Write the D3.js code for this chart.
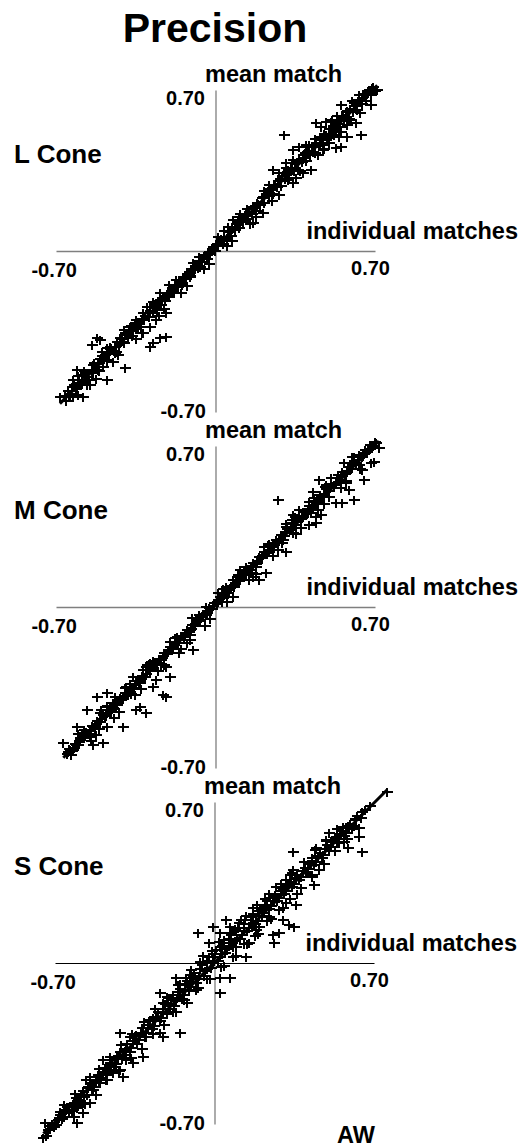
<!DOCTYPE html>
<html>
<head>
<meta charset="utf-8">
<script src="https://cdn.jsdelivr.net/npm/d3@7"></script>
<style>
  html, body { margin: 0; padding: 0; background: #fff; }
  svg { display: block; font-family: "Liberation Sans", Arial, sans-serif; font-weight: bold; }
</style>
</head>
<body>
<svg id="chart" width="523" height="1148"></svg>
<script>
// ---- labels ----
const chartTitle = "Precision";
const panelNames = ["L Cone", "M Cone", "S Cone"];
const axisDomain = [-0.70, 0.70];
const tickLabels = ["-0.70", "0.70"];
const xTitle = "individual matches";
const yTitle = "mean match";
const observer = "AW";

// ---- data: [individual match, mean match] ----
const lConeMatches = [
  [0.688,0.707],[0.710,0.700],[0.667,0.686],[0.630,0.678],[0.681,0.635],[0.645,0.664],[0.550,0.635],[0.594,0.570],
  [0.616,0.555],[0.638,0.504],[0.579,0.497],[0.543,0.497],[0.521,0.504],[0.550,0.454],[0.528,0.446],[0.499,0.468],
  [0.440,0.555],[0.462,0.541],[0.484,0.562],[0.513,0.570],[0.565,0.577],[0.302,0.504],[0.339,0.439],[0.368,0.454],
  [0.397,0.461],[0.426,0.432],[0.448,0.417],[0.470,0.439],[0.419,0.352],[0.383,0.338],[0.339,0.396],[0.310,0.381],
  [0.280,0.338],[0.251,0.352],[0.317,0.309],[0.339,0.294],[0.178,0.149],[0.207,0.164],[0.163,0.120],[0.076,0.135],
  [0.054,0.106],[0.105,0.149],
  [-0.070,-0.068],[-0.114,-0.112],[-0.158,-0.141],[-0.187,-0.184],[-0.216,-0.199],[-0.245,-0.184],[-0.260,-0.228],
  [-0.289,-0.242],[-0.318,-0.271],[-0.216,-0.271],[-0.260,-0.300],[-0.289,-0.329],[-0.318,-0.358],[-0.274,-0.402],
  [-0.289,-0.416],[-0.216,-0.372],[-0.245,-0.380],[-0.347,-0.300],[-0.376,-0.329],[-0.398,-0.358],[-0.420,-0.402],
  [-0.442,-0.445],[-0.464,-0.416],[-0.522,-0.380],[-0.544,-0.409],[-0.507,-0.387],[-0.478,-0.474],[-0.493,-0.503],
  [-0.515,-0.517],[-0.537,-0.532],[-0.566,-0.532],[-0.610,-0.517],[-0.624,-0.561],[-0.595,-0.575],[-0.566,-0.583],
  [-0.478,-0.561],[-0.398,-0.510],[-0.639,-0.633],[-0.683,-0.633],[-0.661,-0.633],[-0.624,-0.633],[-0.581,-0.633],
  [-0.602,-0.626],
  [-0.662,-0.631],[-0.648,-0.608],[-0.639,-0.622],[-0.621,-0.583],[-0.613,-0.601],[-0.597,-0.561],[-0.584,-0.570],
  [-0.571,-0.529],[-0.562,-0.548],[-0.544,-0.517],[-0.533,-0.489],[-0.519,-0.503],[-0.508,-0.468],[-0.494,-0.476],
  [-0.486,-0.452],[-0.471,-0.449],[-0.458,-0.421],[-0.447,-0.433],[-0.433,-0.397],[-0.424,-0.409],[-0.409,-0.382],
  [-0.398,-0.364],[-0.386,-0.378],[-0.372,-0.343],[-0.361,-0.327],[-0.349,-0.341],[-0.337,-0.308],[-0.322,-0.296],
  [-0.313,-0.302],[-0.298,-0.271],[-0.287,-0.259],[-0.276,-0.268],[-0.262,-0.236],[-0.251,-0.219],[-0.239,-0.233],
  [-0.227,-0.198],[-0.214,-0.187],[-0.203,-0.194],[-0.191,-0.162],[-0.178,-0.151],[-0.166,-0.157],[-0.153,-0.126],
  [-0.142,-0.113],[-0.131,-0.121],[-0.118,-0.091],[-0.107,-0.079],[-0.094,-0.084],[-0.083,-0.055],[-0.071,-0.043],
  [-0.058,-0.049],[-0.047,-0.019],[-0.034,-0.008],[-0.023,-0.014],[-0.011,0.016],[0.002,0.027],[0.013,0.021],
  [0.026,0.052],[0.038,0.061],[0.049,0.057],[0.062,0.088],[0.074,0.096],[0.087,0.093],[0.098,0.124],[0.111,0.133],
  [0.122,0.128],[0.136,0.161],[0.147,0.169],[0.159,0.163],[0.172,0.196],[0.184,0.207],[0.196,0.199],[0.208,0.236],
  [0.221,0.247],[0.233,0.238],[0.246,0.276],[0.258,0.289],[0.269,0.279],[0.283,0.313],[0.294,0.324],[0.306,0.312],
  [0.318,0.351],[0.331,0.362],[0.343,0.349],[0.356,0.389],[0.368,0.397],[0.379,0.386],[0.393,0.424],[0.404,0.433],
  [0.416,0.419],[0.429,0.458],[0.441,0.471],[0.453,0.456],[0.466,0.494],[0.478,0.507],[0.489,0.492],[0.503,0.531],
  [0.516,0.543],[0.527,0.528],[0.541,0.569],[0.553,0.581],[0.564,0.566],[0.578,0.607],[0.591,0.618],[0.603,0.603],
  [0.617,0.642],[0.629,0.656],[0.642,0.641],[0.656,0.679],[0.668,0.688],[0.681,0.677],[0.693,0.711],
  [-0.655,-0.650],[-0.631,-0.592],[-0.606,-0.594],[-0.588,-0.541],[-0.556,-0.561],[-0.538,-0.497],[-0.512,-0.521],
  [-0.497,-0.455],[-0.476,-0.478],[-0.463,-0.425],[-0.438,-0.441],[-0.418,-0.379],[-0.403,-0.401],[-0.381,-0.349],
  [-0.366,-0.368],[-0.344,-0.315],[-0.327,-0.329],[-0.309,-0.282],[-0.293,-0.289],[-0.271,-0.244],[-0.257,-0.256],
  [-0.233,-0.209],[-0.221,-0.219],[-0.196,-0.172],[-0.184,-0.181],[-0.161,-0.136],[-0.147,-0.146],[-0.124,-0.101],
  [-0.112,-0.109],[-0.088,-0.066],[-0.076,-0.072],[-0.052,-0.029],[-0.039,-0.036],[-0.017,0.008],[-0.004,0.001],
  [0.019,0.045],[0.031,0.029],[0.056,0.081],[0.068,0.064],[0.092,0.118],[0.104,0.101],[0.128,0.155],[0.141,0.138],
  [0.166,0.192],[0.178,0.174],[0.202,0.230],[0.214,0.209],[0.239,0.268],[0.251,0.246],[0.276,0.305],[0.288,0.281],
  [0.312,0.343],[0.324,0.318],[0.349,0.381],[0.361,0.354],[0.386,0.418],[0.398,0.391],[0.423,0.455],[0.435,0.428],
  [0.459,0.494],[0.472,0.463],[0.496,0.531],[0.509,0.499],[0.534,0.568],[0.546,0.537],[0.571,0.606],[0.584,0.574],
  [0.609,0.644],[0.622,0.611],[0.648,0.683],[0.661,0.652],[0.674,0.699],[0.699,0.694],
  [-0.602,-0.543],[-0.551,-0.582],[-0.498,-0.441],[-0.452,-0.484],[-0.401,-0.343],[-0.348,-0.381],[-0.302,-0.244],
  [-0.249,-0.283],[-0.203,-0.148],[-0.151,-0.182],[-0.098,-0.052],[-0.051,-0.078],[0.012,0.061],[0.049,0.022],
  [0.108,0.162],[0.152,0.118],[0.212,0.263],[0.249,0.218],[0.311,0.362],[0.352,0.318],[0.409,0.461],[0.451,0.419],
  [0.508,0.562],[0.552,0.518],[0.601,0.652],[0.633,0.598],
  [-0.577,-0.523],[-0.526,-0.557],[-0.474,-0.422],[-0.427,-0.453],[-0.373,-0.327],[-0.324,-0.356],[-0.276,-0.223],
  [-0.226,-0.254],[-0.173,-0.127],[-0.126,-0.153],[-0.074,-0.024],[-0.027,-0.056],[0.036,0.087],[0.073,0.044],
  [0.137,0.183],[0.176,0.147],[0.233,0.287],[0.277,0.243],[0.336,0.383],[0.373,0.347],[0.437,0.486],[0.476,0.443],
  [0.533,0.587],[0.577,0.547],
  [-0.645,-0.628],[-0.617,-0.592],[-0.591,-0.574],[-0.566,-0.546],[-0.541,-0.524],[-0.515,-0.492],[-0.489,-0.468],
  [-0.466,-0.447],[-0.439,-0.418],[-0.414,-0.396],[-0.389,-0.367],[-0.364,-0.347],[-0.339,-0.318],[-0.314,-0.296],
  [-0.289,-0.268],[-0.264,-0.247],[-0.239,-0.218],[-0.214,-0.197],[-0.189,-0.168],[-0.164,-0.147],[-0.139,-0.118],
  [-0.114,-0.097],[-0.089,-0.068],[-0.064,-0.047],[-0.039,-0.018],[-0.014,0.003],[0.011,0.032],[0.036,0.053],
  [0.061,0.082],[0.086,0.103],[0.111,0.132],[0.136,0.153],[0.161,0.182],[0.186,0.203],[0.211,0.232],[0.236,0.253],
  [0.261,0.282],[0.286,0.303],[0.311,0.332],[0.336,0.353],[0.361,0.382],[0.386,0.403],[0.411,0.432],[0.436,0.453],
  [0.461,0.482],[0.486,0.503],[0.511,0.532],[0.536,0.553],[0.561,0.582],[0.586,0.603],[0.611,0.632],[0.636,0.653],
  [0.661,0.682],[0.686,0.701]
];

const mConeMatches = [
  [0.688,0.697],[0.717,0.690],[0.666,0.675],[0.645,0.653],[0.564,0.625],[0.601,0.625],[0.630,0.617],[0.681,0.625],
  [0.696,0.632],[0.645,0.596],[0.652,0.552],[0.572,0.538],[0.587,0.509],[0.608,0.465],[0.557,0.451],[0.528,0.451],
  [0.499,0.480],[0.484,0.530],[0.455,0.552],[0.426,0.501],[0.462,0.480],[0.273,0.465],[0.440,0.451],[0.440,0.393],
  [0.462,0.400],[0.411,0.357],[0.440,0.364],[0.368,0.422],[0.383,0.393],[0.339,0.400],[0.310,0.349],[0.339,0.320],
  [0.295,0.291],[0.310,0.240],[0.251,0.277],[0.236,0.240],[0.222,0.146],[0.192,0.117],[0.163,0.132],[0.178,0.175],
  [0.105,0.132],[0.076,0.117],[0.047,0.088],
  [-0.085,-0.057],[-0.128,-0.115],[-0.172,-0.158],[-0.114,-0.145],[-0.099,-0.187],[-0.158,-0.201],[-0.216,-0.201],
  [-0.245,-0.230],[-0.289,-0.245],[-0.303,-0.259],[-0.318,-0.274],[-0.216,-0.259],[-0.201,-0.303],[-0.260,-0.317],
  [-0.274,-0.346],[-0.332,-0.332],[-0.361,-0.303],[-0.391,-0.346],[-0.405,-0.390],[-0.434,-0.404],[-0.478,-0.375],
  [-0.522,-0.390],[-0.478,-0.433],[-0.449,-0.419],[-0.347,-0.448],[-0.332,-0.433],[-0.303,-0.462],[-0.230,-0.383],
  [-0.216,-0.390],[-0.566,-0.448],[-0.507,-0.462],[-0.478,-0.520],[-0.405,-0.520],[-0.610,-0.520],[-0.581,-0.549],
  [-0.493,-0.593],[-0.537,-0.600],[-0.668,-0.593],[-0.624,-0.622],[-0.632,-0.644],[-0.595,-0.578],[-0.551,-0.564],
  [-0.652,-0.641],[-0.641,-0.618],[-0.629,-0.626],[-0.617,-0.594],[-0.604,-0.601],[-0.593,-0.571],[-0.579,-0.566],
  [-0.568,-0.543],[-0.556,-0.552],[-0.542,-0.518],[-0.531,-0.527],[-0.518,-0.494],[-0.507,-0.499],[-0.494,-0.468],
  [-0.482,-0.476],[-0.469,-0.446],[-0.457,-0.449],[-0.445,-0.421],[-0.433,-0.427],[-0.421,-0.396],[-0.408,-0.402],
  [-0.396,-0.372],[-0.384,-0.377],[-0.372,-0.347],[-0.359,-0.353],[-0.347,-0.322],[-0.335,-0.328],[-0.322,-0.298],
  [-0.311,-0.303],[-0.298,-0.273],[-0.286,-0.279],[-0.274,-0.249],[-0.262,-0.254],[-0.249,-0.224],[-0.237,-0.229],
  [-0.225,-0.199],[-0.213,-0.206],[-0.201,-0.176],[-0.188,-0.181],[-0.176,-0.151],[-0.164,-0.157],[-0.152,-0.127],
  [-0.139,-0.132],[-0.127,-0.102],[-0.115,-0.108],[-0.103,-0.078],[-0.091,-0.083],[-0.078,-0.053],[-0.066,-0.059],
  [-0.054,-0.029],[-0.042,-0.034],[-0.029,-0.004],[-0.017,-0.010],[-0.005,0.019],[0.007,0.014],[0.019,0.044],
  [0.031,0.038],[0.044,0.068],[0.056,0.063],[0.068,0.093],[0.081,0.087],[0.093,0.118],[0.105,0.112],[0.117,0.142],
  [0.129,0.137],[0.142,0.167],[0.154,0.161],[0.166,0.191],[0.178,0.186],[0.191,0.216],[0.203,0.211],[0.215,0.241],
  [0.227,0.235],[0.239,0.266],[0.252,0.259],[0.264,0.291],[0.276,0.284],[0.288,0.315],[0.301,0.308],[0.313,0.340],
  [0.325,0.333],[0.337,0.364],[0.349,0.357],[0.362,0.389],[0.374,0.382],[0.386,0.413],[0.398,0.406],[0.411,0.438],
  [0.423,0.431],[0.435,0.462],[0.447,0.455],[0.459,0.487],[0.472,0.480],[0.484,0.511],[0.496,0.504],[0.508,0.536],
  [0.521,0.529],[0.533,0.561],[0.545,0.553],[0.557,0.585],[0.569,0.578],[0.582,0.610],[0.594,0.602],[0.606,0.634],
  [0.618,0.627],[0.631,0.659],[0.643,0.651],[0.655,0.683],[0.667,0.676],[0.680,0.705],[0.692,0.699],[0.704,0.712],
  [-0.646,-0.630],[-0.623,-0.611],[-0.598,-0.586],[-0.574,-0.557],[-0.549,-0.536],[-0.525,-0.508],[-0.501,-0.488],
  [-0.476,-0.461],[-0.451,-0.437],[-0.427,-0.409],[-0.402,-0.388],[-0.378,-0.361],[-0.353,-0.339],[-0.329,-0.311],
  [-0.305,-0.291],[-0.280,-0.262],[-0.256,-0.242],[-0.231,-0.214],[-0.207,-0.192],[-0.182,-0.164],[-0.158,-0.143],
  [-0.134,-0.116],[-0.109,-0.095],[-0.085,-0.066],[-0.061,-0.045],[-0.036,-0.019],[-0.012,0.004],[0.013,0.031],
  [0.037,0.053],[0.062,0.081],[0.086,0.102],[0.111,0.129],[0.135,0.151],[0.160,0.179],[0.184,0.199],[0.209,0.228],
  [0.233,0.249],[0.258,0.277],[0.282,0.297],[0.307,0.327],[0.331,0.346],[0.356,0.376],[0.380,0.396],[0.405,0.424],
  [0.429,0.444],[0.454,0.474],[0.478,0.493],[0.503,0.523],[0.527,0.541],[0.552,0.572],[0.576,0.591],[0.601,0.621],
  [0.625,0.639],[0.650,0.669],[0.674,0.688],[0.699,0.717],
  [-0.51,-0.53],[-0.44,-0.39],[-0.37,-0.38],[-0.30,-0.25],[-0.24,-0.25],[-0.17,-0.13],[-0.11,-0.12],[-0.04,0.00],
  [0.03,0.02],[0.10,0.14],[0.16,0.15],[0.23,0.27],[0.29,0.28],[0.35,0.39],[0.42,0.41],[0.48,0.52],[0.55,0.54],[0.61,0.65],
  [-0.603,-0.552],[-0.548,-0.583],[-0.502,-0.449],[-0.447,-0.482],[-0.398,-0.351],[-0.352,-0.384],[-0.299,-0.252],
  [-0.251,-0.279],[-0.198,-0.152],[-0.152,-0.181],[-0.101,-0.048],[-0.048,-0.082],[0.011,0.059],[0.052,0.021],
  [0.109,0.161],[0.148,0.118],[0.212,0.259],[0.251,0.222],[0.309,0.362],[0.352,0.319],[0.412,0.458],[0.448,0.421],
  [0.509,0.561],[0.551,0.519],[0.598,0.651],[0.632,0.602],
  [-0.576,-0.533],[-0.523,-0.556],[-0.477,-0.432],[-0.424,-0.457],[-0.376,-0.333],[-0.326,-0.357],[-0.273,-0.236],
  [-0.227,-0.253],[-0.176,-0.133],[-0.124,-0.156],[-0.073,-0.036],[-0.026,-0.053],[0.034,0.077],[0.077,0.043],
  [0.133,0.176],[0.177,0.144],[0.236,0.276],[0.273,0.246],[0.334,0.377],[0.377,0.343],[0.433,0.476],[0.477,0.446],
  [0.536,0.574],[0.574,0.546],
  [-0.638,-0.622],[-0.611,-0.601],[-0.586,-0.571],[-0.561,-0.551],[-0.537,-0.521],[-0.512,-0.501],[-0.487,-0.472],
  [-0.462,-0.452],[-0.438,-0.422],[-0.413,-0.403],[-0.388,-0.373],[-0.363,-0.353],[-0.339,-0.323],[-0.314,-0.304],
  [-0.289,-0.274],[-0.264,-0.254],[-0.240,-0.224],[-0.215,-0.205],[-0.190,-0.175],[-0.165,-0.155],[-0.141,-0.125],
  [-0.116,-0.106],[-0.091,-0.076],[-0.066,-0.056],[-0.042,-0.026],[-0.017,-0.007],[0.008,0.023],[0.033,0.043],
  [0.057,0.073],[0.082,0.092],[0.107,0.122],[0.132,0.142],[0.156,0.172],[0.181,0.191],[0.206,0.221],[0.231,0.241],
  [0.255,0.271],[0.280,0.290],[0.305,0.320],[0.330,0.340],[0.354,0.370],[0.379,0.389],[0.404,0.419],[0.429,0.439],
  [0.453,0.469],[0.478,0.488],[0.503,0.518],[0.528,0.538],[0.552,0.568],[0.577,0.587],[0.602,0.617],[0.627,0.637],
  [0.651,0.667],[0.676,0.686]
];

const sConeMatches = [
  [0.758,0.745],[0.503,0.564],[0.532,0.549],[0.562,0.593],[0.591,0.586],[0.634,0.586],[0.634,0.549],[0.649,0.484],
  [0.584,0.498],[0.569,0.527],[0.547,0.520],[0.518,0.535],[0.488,0.535],[0.445,0.498],[0.343,0.484],[0.430,0.455],
  [0.459,0.404],[0.430,0.375],[0.437,0.339],[0.401,0.390],[0.372,0.361],[0.343,0.404],[0.313,0.361],[0.299,0.317],
  [0.255,0.288],[0.226,0.245],[0.240,0.201],[0.211,0.230],[0.313,0.259],[0.357,0.252],[0.299,0.187],[0.328,0.165],
  [0.350,0.158],[0.255,0.122],[0.284,0.129],[0.262,0.085],[0.197,0.158],[0.168,0.172],[0.182,0.143],[0.138,0.027],
  [0.153,0.085],[0.109,0.172],[0.051,0.187],[0.066,0.158],[0.022,0.129],[-0.007,0.158],[-0.073,0.129],[-0.022,0.085],
  [0.022,0.071],[-0.007,0.027],[0.095,0.071],[0.066,0.085],
  [-0.168,-0.067],[-0.124,-0.067],[0.022,-0.067],[0.066,-0.067],[0.022,-0.132],[-0.241,-0.132],[-0.226,-0.176],
  [-0.270,-0.241],[-0.416,-0.306],[-0.372,-0.320],[-0.343,-0.313],[-0.314,-0.306],[-0.241,-0.306],[-0.226,-0.320],
  [-0.153,-0.306],[-0.299,-0.320],[-0.430,-0.407],[-0.489,-0.422],[-0.459,-0.436],[-0.387,-0.422],[-0.314,-0.407],
  [-0.357,-0.436],[-0.416,-0.465],[-0.401,-0.494],[-0.445,-0.480],[-0.474,-0.509],[-0.547,-0.494],[-0.503,-0.523],
  [-0.532,-0.552],[-0.576,-0.610],[-0.547,-0.610],[-0.649,-0.625],[-0.620,-0.639],[-0.605,-0.632],[-0.664,-0.654],
  [-0.678,-0.646],[-0.576,-0.654],[-0.744,-0.697],[-0.605,-0.697],[-0.751,-0.762],
  [-0.741,-0.752],[-0.722,-0.721],[-0.705,-0.712],[-0.688,-0.681],[-0.671,-0.679],[-0.655,-0.647],[-0.638,-0.653],
  [-0.621,-0.611],[-0.604,-0.622],[-0.588,-0.579],[-0.571,-0.583],[-0.555,-0.541],[-0.538,-0.552],[-0.522,-0.509],
  [-0.505,-0.521],[-0.489,-0.474],[-0.472,-0.486],[-0.456,-0.441],[-0.439,-0.452],[-0.423,-0.406],[-0.406,-0.419],
  [-0.390,-0.372],[-0.373,-0.387],[-0.357,-0.338],[-0.340,-0.352],[-0.324,-0.303],[-0.307,-0.321],[-0.291,-0.269],
  [-0.274,-0.288],[-0.258,-0.236],[-0.241,-0.251],[-0.225,-0.201],[-0.208,-0.222],[-0.192,-0.163],[-0.176,-0.189],
  [-0.160,-0.128],[-0.144,-0.157],[-0.128,-0.094],[-0.112,-0.121],[-0.096,-0.061],[-0.080,-0.089],[-0.064,-0.027],
  [-0.048,-0.056],[-0.032,0.008],[-0.016,-0.022],[0.000,0.041],[0.016,0.010],[0.032,0.074],[0.048,0.043],
  [0.064,0.105],[0.080,0.071],[0.096,0.138],[0.112,0.104],[0.128,0.169],[0.144,0.137],[0.160,0.199],[0.176,0.171],
  [0.192,0.228],[0.208,0.203],[0.224,0.254],[0.241,0.236],[0.257,0.283],[0.273,0.268],[0.290,0.311],[0.306,0.299],
  [0.322,0.337],[0.339,0.331],[0.355,0.368],[0.371,0.362],[0.388,0.399],[0.404,0.394],[0.421,0.431],[0.437,0.426],
  [0.454,0.463],[0.470,0.457],[0.487,0.494],[0.503,0.488],[0.520,0.526],[0.536,0.521],[0.553,0.558],[0.569,0.552],
  [0.586,0.589],[0.602,0.584],[0.619,0.621],
  [-0.204,-0.152],[-0.183,-0.213],[-0.151,-0.093],[-0.132,-0.162],[-0.103,-0.031],[-0.082,-0.118],[-0.052,0.032],
  [-0.031,-0.071],[0.018,0.092],[0.041,-0.012],[0.071,0.131],[0.093,0.029],[0.118,0.188],[0.142,0.083],
  [0.171,0.241],[0.193,0.128],[0.221,0.279],[0.249,0.192],[0.271,0.332],[0.302,0.238],[0.331,0.381],[0.362,0.302],
  [-0.731,-0.728],[-0.712,-0.701],[-0.694,-0.704],[-0.676,-0.659],[-0.659,-0.668],[-0.641,-0.627],[-0.626,-0.642],
  [-0.609,-0.589],[-0.593,-0.601],[-0.578,-0.556],[-0.561,-0.573],[-0.545,-0.521],[-0.529,-0.538],[-0.513,-0.489],
  [-0.497,-0.502],[-0.481,-0.455],[-0.464,-0.469],[-0.448,-0.421],[-0.431,-0.437],[-0.415,-0.386],[-0.398,-0.402],
  [-0.382,-0.352],[-0.365,-0.369],[-0.349,-0.318],[-0.332,-0.336],[-0.316,-0.283],[-0.299,-0.304],[-0.283,-0.249],
  [-0.266,-0.272],[-0.250,-0.214],[-0.233,-0.241],[-0.217,-0.178],[-0.200,-0.198],[-0.184,-0.141],[-0.168,-0.166],
  [-0.152,-0.112],[-0.136,-0.137],[-0.120,-0.078],[-0.104,-0.103],[-0.088,-0.042],[-0.072,-0.071],[-0.056,-0.008],
  [-0.040,-0.035],[-0.024,0.024],[-0.008,-0.002],[0.008,0.057],[0.024,0.026],[0.040,0.089],[0.056,0.061],
  [0.072,0.121],[0.088,0.094],[0.104,0.153],[0.120,0.121],[0.136,0.186],[0.152,0.154],[0.168,0.212],[0.184,0.183],
  [0.200,0.241],[0.216,0.219],[0.232,0.268],[0.249,0.249],[0.265,0.296],[0.281,0.281],[0.298,0.326],[0.314,0.312],
  [0.330,0.351],[0.347,0.344],[0.363,0.382],[0.380,0.374],[0.396,0.412],[0.412,0.408],[0.429,0.445],[0.445,0.440],
  [0.462,0.478],[0.478,0.471],[0.495,0.511],[0.511,0.506],[0.528,0.542],[0.545,0.538],[0.561,0.572],[0.578,0.566],
  [0.594,0.603],[0.611,0.596],[0.627,0.637],[0.643,0.631],[0.660,0.664],
  [-0.662,-0.618],[-0.617,-0.671],[-0.563,-0.508],[-0.521,-0.572],[-0.458,-0.409],[-0.421,-0.468],[-0.362,-0.307],
  [-0.318,-0.372],[-0.261,-0.198],[-0.222,-0.271],[-0.158,-0.097],[-0.121,-0.172],[-0.062,0.003],[-0.018,-0.068],
  [0.042,0.102],[0.081,0.028],[0.138,0.203],[0.179,0.118],[0.241,0.298],[0.282,0.229],[0.338,0.392],[0.381,0.328],
  [0.442,0.491],[0.479,0.431],[0.538,0.583],[0.582,0.538],
  [-0.612,-0.568],[-0.508,-0.462],[-0.412,-0.358],[-0.309,-0.258],[-0.207,-0.148],[-0.109,-0.052],[-0.011,0.052],
  [0.091,0.148],[0.188,0.251],[0.292,0.342],[0.391,0.438],[0.489,0.532],
  [-0.568,-0.612],[-0.471,-0.508],[-0.368,-0.412],[-0.272,-0.309],[-0.169,-0.212],[-0.072,-0.108],[0.029,-0.018],
  [0.128,0.082],[0.232,0.181],[0.331,0.279],[0.428,0.382],[0.531,0.488],
  [-0.716,-0.709],[-0.683,-0.672],[-0.651,-0.641],[-0.618,-0.609],[-0.586,-0.576],[-0.553,-0.545],[-0.521,-0.512],
  [-0.488,-0.479],[-0.456,-0.446],[-0.423,-0.415],[-0.391,-0.381],[-0.358,-0.351],[-0.326,-0.316],[-0.293,-0.284],
  [-0.261,-0.251],[-0.228,-0.219],[-0.196,-0.186],[-0.163,-0.154],[-0.131,-0.121],[-0.098,-0.089],[-0.066,-0.056],
  [-0.033,-0.024],[-0.001,0.009],[0.032,0.041],[0.064,0.074],[0.097,0.106],[0.129,0.139],[0.162,0.171],
  [0.194,0.204],[0.227,0.236],[0.259,0.269],[0.292,0.301],[0.324,0.334],[0.357,0.366],[0.389,0.399],[0.422,0.431],
  [0.454,0.464],[0.487,0.496],[0.519,0.529],[0.552,0.561],[0.584,0.594],[0.617,0.626],[0.649,0.656],[0.681,0.682]
];

const panelData = [lConeMatches, mConeMatches, sConeMatches];

// ---- layout ----
const panelCenters = [[216, 251], [216, 607], [215, 963]];
const halfW = 160, halfH = 161;
const xAxisColors = ["#7f7f7f", "#7f7f7f", "#000"];
const xAxisWidths = [1.4, 1.4, 1];

const svg = d3.select("#chart");

svg.append("text")
  .attr("x", 215).attr("y", 42)
  .attr("text-anchor", "middle")
  .attr("font-size", 41)
  .text(chartTitle);

function fitLine(pts) {
  const mx = d3.mean(pts, d => d[0]);
  const my = d3.mean(pts, d => d[1]);
  const sxy = d3.sum(pts, d => (d[0] - mx) * (d[1] - my));
  const sxx = d3.sum(pts, d => (d[0] - mx) * (d[0] - mx));
  const slope = sxy / sxx;
  return { slope, intercept: my - slope * mx };
}

// "+" marker: slightly wider than tall
const armX = 5.5, armY = 4.5;

panelData.forEach((pts, i) => {
  const [cx, cy] = panelCenters[i];
  const x = d3.scaleLinear().domain(axisDomain).range([cx - halfW, cx + halfW - 1]);
  const y = d3.scaleLinear().domain(axisDomain).range([cy + halfH, cy - halfH]);
  const g = svg.append("g");

  // cross-shaped axes through the origin
  const xAxis = d3.axisBottom(x).tickValues([]).tickSizeOuter(0);
  const yAxis = d3.axisLeft(y).tickValues([]).tickSizeOuter(0);
  g.append("g").attr("transform", `translate(0,${y(0)})`).call(xAxis)
    .select(".domain").attr("stroke", xAxisColors[i]).attr("stroke-width", xAxisWidths[i]);
  g.append("g").attr("transform", `translate(${x(0)},0)`).call(yAxis)
    .select(".domain").attr("stroke", "#7f7f7f").attr("stroke-width", 1.3);

  // markers
  g.append("g").attr("shape-rendering", "crispEdges")
    .selectAll("path").data(pts).join("path")
    .attr("transform", d => `translate(${Math.round(x(d[0]))},${Math.round(y(d[1]))})`)
    .attr("d", `M${-armX},0H${armX}M0,${-armY}V${armY}`)
    .attr("fill", "none").attr("stroke", "#000").attr("stroke-width", 2);

  // least-squares line
  const f = fitLine(pts);
  const [x0, x1] = d3.extent(pts, d => d[0]);
  g.append("line")
    .attr("x1", x(x0)).attr("y1", y(f.slope * x0 + f.intercept))
    .attr("x2", x(x1)).attr("y2", y(f.slope * x1 + f.intercept))
    .attr("stroke", "#000").attr("stroke-width", 3);

  // labels
  g.append("text").attr("x", 14).attr("y", cy - 88).attr("font-size", 26).text(panelNames[i]);
  g.append("text").attr("x", cx - 11).attr("y", cy - 169).attr("font-size", 23.5).text(yTitle);
  g.append("text").attr("x", cx + 302).attr("y", cy - 12).attr("text-anchor", "end")
    .attr("font-size", 23.5).text(xTitle);
  g.append("text").attr("x", cx - 11).attr("y", cy - 146).attr("text-anchor", "end")
    .attr("font-size", 20).text(tickLabels[1]);
  g.append("text").attr("x", cx - 10).attr("y", cy + 167).attr("text-anchor", "end")
    .attr("font-size", 20).text(tickLabels[0]);
  g.append("text").attr("x", cx - 139).attr("y", cy + 26).attr("text-anchor", "end")
    .attr("font-size", 20).text(tickLabels[0]);
  g.append("text").attr("x", cx + 174).attr("y", cy + 24).attr("text-anchor", "end")
    .attr("font-size", 20).text(tickLabels[1]);
});

svg.append("text").attr("x", 337).attr("y", 1143).attr("font-size", 23.5).text(observer);
</script>
</body>
</html>
